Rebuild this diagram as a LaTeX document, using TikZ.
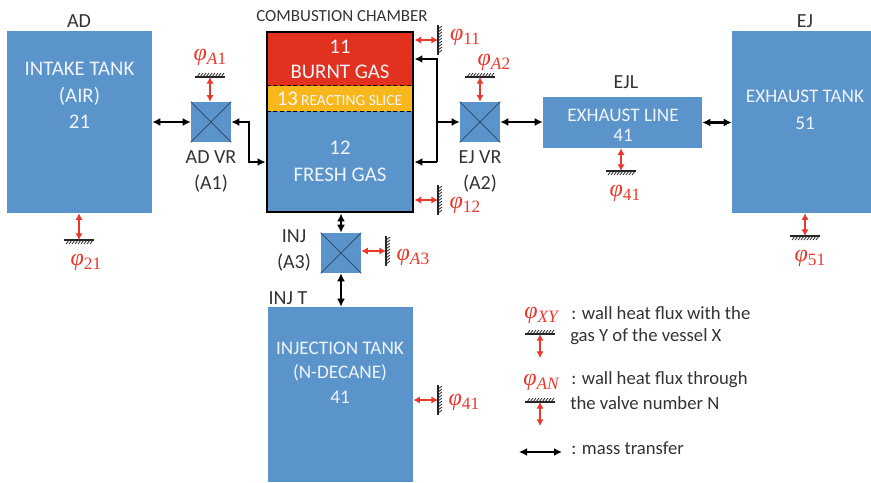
\documentclass[tikz,border=0pt]{standalone}
\usepackage{fontspec}
\setmainfont{Carlito}
\newfontfamily\phifont{Liberation Serif}[ItalicFont=* Italic]
\usetikzlibrary{arrows.meta,calc}
\definecolor{bluefill}{HTML}{5B94CB}
\definecolor{redfill}{HTML}{E2311F}
\definecolor{yellowfill}{HTML}{F8B81C}
\definecolor{fluxred}{HTML}{E8392C}
\definecolor{ink}{HTML}{333333}
\newcommand{\bx}[6]{% style,name,x1,y1,x2,y2
  \pgfmathsetmacro{\bw}{(#5-#3)*0.75}\pgfmathsetmacro{\bh}{(#6-#4)*0.75}
  \node[#1,minimum width=\bw pt,minimum height=\bh pt] (#2) at ({(#3+#5)/2},{(#4+#6)/2}) {};}
\newcommand{\hwall}[3]{% name,x,y  hatch above
  \coordinate (#1) at (#2,#3);
  \draw[wallline] ($(#1)+(-15,0)$) -- ($(#1)+(15,0)$);
  \foreach \i in {-13,-10,...,11} \draw[hatchline] ($(#1)+(\i,0)$) -- ++(3,-4);}
\newcommand{\hwalld}[3]{% name,x,y  hatch below
  \coordinate (#1) at (#2,#3);
  \draw[wallline] ($(#1)+(-15,0)$) -- ($(#1)+(15,0)$);
  \foreach \i in {-10,-7,...,14} \draw[hatchline] ($(#1)+(\i,0)$) -- ++(-3,4);}
\newcommand{\vwall}[3]{% name,x,y  hatch right
  \coordinate (#1) at (#2,#3);
  \draw[wallline] ($(#1)+(0,-15)$) -- ($(#1)+(0,15)$);
  \foreach \i in {-11,-8,...,14} \draw[hatchline] ($(#1)+(0,\i)$) -- ++(4,-3);}
\tikzset{
  tank/.style={fill=bluefill,draw=none,inner sep=0pt},
  redzone/.style={fill=redfill,draw=none,inner sep=0pt},
  yellowzone/.style={fill=yellowfill,draw=none,inner sep=0pt},
  frame/.style={draw=black,line width=2.2pt,inner sep=0pt},
  valve/.style={fill=bluefill,draw=none,inner sep=0pt},
  white text/.style={text=white!90!bluefill,align=center,font=\fontsize{14.4}{20}\selectfont},
  dark text/.style={text=ink,align=center,font=\fontsize{15}{19.5}\selectfont},
  legend text/.style={text=ink,anchor=west,inner sep=0pt,font=\fontsize{14}{16}\selectfont},
  phi/.style={text=fluxred,inner sep=0pt,font=\fontsize{18}{18}\phifont\itshape},
  mass/.style={{Latex[length=6pt,width=6pt]}-{Latex[length=6pt,width=6pt]},line width=1.6pt,black},
  massend/.style={-{Latex[length=6pt,width=6pt]},line width=1.6pt,black},
  massstart/.style={{Latex[length=6pt,width=6pt]}-,line width=1.6pt,black},
  flux/.style={{Latex[length=5pt,width=5.5pt]}-{Latex[length=5pt,width=5.5pt]},line width=1.6pt,fluxred},
  wallline/.style={line width=1pt,black!85},
  hatchline/.style={line width=.6pt,black!85},
  cross/.style={line width=.6pt,draw=black!45!bluefill},
}
\newcommand{\ph}[1]{φ{\fontsize{13}{13}\selectfont\raisebox{-3pt}{#1}}}
\newcommand{\dg}[1]{\textup{#1}}
\begin{document}
\begin{tikzpicture}[x=0.75pt,y=-0.75pt]
\useasboundingbox (0,0) rectangle (871,482);
% tanks
\bx{tank}{intake}{7}{31}{152}{213}
\bx{tank}{exhaust}{732}{31}{871}{213}
\bx{tank}{line}{543}{97}{702}{148}
\bx{tank}{inj}{268}{307}{413}{482}
% chamber
\bx{redzone}{burnt}{267}{32}{413}{86}
\bx{yellowzone}{slice}{267}{86}{413}{111}
\bx{tank}{fresh}{267}{111}{413}{212}
\bx{frame}{chamber}{267}{32}{413}{212}
\draw[black,line width=.9pt,dash pattern=on 3pt off 2pt] (slice.north west) -- (slice.north east);
\draw[black,line width=.9pt,dash pattern=on 3pt off 2pt] (slice.south west) -- (slice.south east);
% valves
\bx{valve}{vA}{191}{102}{231}{142}
\bx{valve}{vE}{460}{102}{500}{142}
\bx{valve}{vI}{321}{233}{361}{273}
\foreach \v in {vA,vE,vI}{
  \draw[cross] (\v.north west) -- (\v.south east);
  \draw[cross] (\v.north east) -- (\v.south west);}
% texts in boxes
\node[white text,font=\fontsize{15.6}{20}\selectfont] (t1) at (79.5,95.5) {INTAKE TANK\\(AIR)\\21};
\node[white text] (t2) at (805,109.5) {EXHAUST TANK\\51};
\node[white text,font=\fontsize{14.4}{15}\selectfont] (t3) at (623,125) {EXHAUST LINE\\41};
\node[white text,font=\fontsize{14.4}{18.5}\selectfont] (t4) at (340,372.5) {INJECTION TANK\\(N-DECANE)\\41};
\node[white text,font=\fontsize{15.6}{19}\selectfont] (t5) at (340,59.5) {11\\BURNT GAS};
\node[white text,font=\fontsize{15.6}{20}\selectfont] (t6) at (340,161.5) {12\\FRESH GAS};
\node[white text,inner sep=0pt] (t7) at (339.5,98.5) {{\fontsize{15.6}{13}\selectfont 13}\,{\fontsize{11.6}{13}\selectfont REACTING SLICE}};
% outer labels
\node[dark text] (l1) at (79,21) {AD};
\node[dark text,font=\fontsize{12.7}{14}\selectfont] (l2) at (342,16) {COMBUSTION CHAMBER};
\node[dark text] (l3) at (805,21) {EJ};
\node[dark text] (l4) at (626,82) {EJL};
\node[dark text] (l5) at (211,171) {AD VR\\(A1)};
\node[dark text] (l6) at (480,171) {EJ VR\\(A2)};
\node[dark text] (l7) at (294,250) {INJ\\(A3)};
\node[dark text] (l8) at (288,298) {INJ T};
% mass transfers
\coordinate (aknee1) at (249,122);
\coordinate (aknee2) at (249,162);
\coordinate (eknee1) at (437,59);
\coordinate (eknee2) at (437,162);
\draw[mass] (intake.east |- vA.west) -- (vA.west);
\draw[mass] (vA.east) -- (aknee1) -- (aknee2) -- (aknee2 -| chamber.west);
\draw[massstart] (eknee1 -| chamber.east) -- (eknee1) -- (eknee2);
\draw[massend] (eknee2) -- (eknee2 -| chamber.east);
\draw[massend] (eknee1 |- vE.west) -- (vE.west);
\draw[mass] (vE.east) -- (line.west |- vE.east);
\draw[mass] (line.east) -- (exhaust.west |- line.east);
\draw[mass] (vI.north) -- (vI.north |- chamber.south);
\draw[mass] (vI.south) -- (vI.south |- inj.north);
% walls and fluxes
\vwall{w11}{438}{40}
\draw[flux] (chamber.east |- w11) -- (w11);
\vwall{w12}{438}{200}
\draw[flux] (chamber.east |- w12) -- (w12);
\hwall{wA1}{210}{77}
\draw[flux] (wA1 |- vA.north) -- (wA1);
\hwall{wA2}{480}{77}
\draw[flux] (wA2 |- vE.north) -- (wA2);
\hwalld{w41a}{621}{171}
\draw[flux] (w41a |- line.south) -- (w41a);
\hwalld{w21}{79}{240}
\draw[flux] (w21 |- intake.south) -- (w21);
\hwalld{w51}{805}{236}
\draw[flux] (w51 |- exhaust.south) -- (w51);
\vwall{wA3}{386}{251}
\draw[flux] (vI.east |- wA3) -- (wA3);
\vwall{w41b}{438}{400}
\draw[flux] (inj.east |- w41b) -- (w41b);
% flux labels
\node[phi] (p1) at (465,37) {\ph{\dg{11}}};
\node[phi] (p2) at (465,205) {\ph{\dg{12}}};
\node[phi] (p3) at (210,57) {\ph{A\dg{1}}};
\node[phi] (p4) at (494,62) {\ph{A\dg{2}}};
\node[phi] (p5) at (625,193) {\ph{\dg{41}}};
\node[phi] (p6) at (86,262) {\ph{\dg{21}}};
\node[phi] (p7) at (810,258) {\ph{\dg{51}}};
\node[phi] (p8) at (413,257) {\ph{A\dg{3}}};
\node[phi] (p9) at (464,402) {\ph{\dg{41}}};
% legend
\node[phi] (p10) at (541,315) {\ph{XY}};
\hwall{wl1}{540}{334}
\coordinate (e1) at (540,358);
\draw[flux] (wl1) -- (e1);
\node[phi] (p11) at (541,382) {\ph{AN}};
\hwall{wl2}{540}{402}
\coordinate (e2) at (540,426);
\draw[flux] (wl2) -- (e2);
\coordinate (m1) at (519,452);
\coordinate (m2) at (562,452);
\draw[mass] (m1) -- (m2);
\node[legend text] (q1) at (571,313) {: wall heat flux with the};
\node[legend text] (q2) at (570,337) {gas Y of the vessel X};
\node[legend text] (q3) at (571,380) {: wall heat flux through};
\node[legend text] (q4) at (570,403) {the valve number N};
\node[legend text] (q5) at (571,448) {: mass transfer};
\end{tikzpicture}
\end{document}
